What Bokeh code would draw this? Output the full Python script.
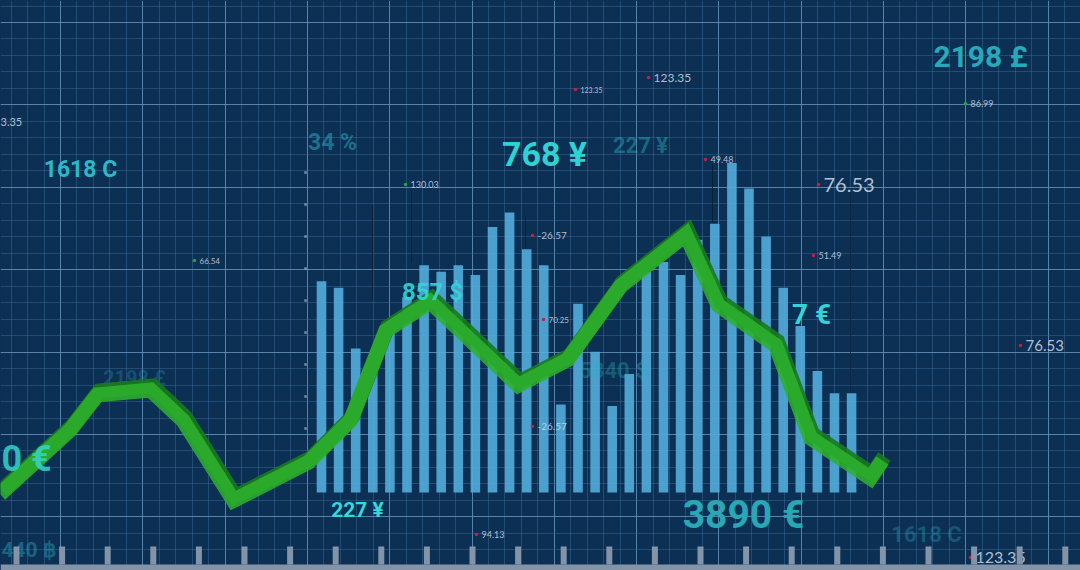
import numpy as np
from bokeh.plotting import figure
from bokeh.models import Range1d, Grid, FixedTicker, ColumnDataSource, GlobalInlineStyleSheet
from bokeh.core.properties import value
from bokeh.embed import file_html
from bokeh.resources import INLINE

# ---------------- data ----------------
bar_index = list(range(32))
bar_values = [6.6, 6.4, 4.5, 3.8, 5.3, 6.1, 7.1, 6.9, 7.1, 6.8, 8.3, 8.75, 7.6, 7.1,
              2.75, 5.9, 4.4, 2.7, 3.7, 6.9, 7.2, 6.8, 7.9, 8.4, 10.3, 9.5, 8.0,
              6.4, 5.2, 3.8, 3.1, 3.1]
line_t = [-18.8, -14.7, -13.1, -10.0, -8.1, -5.15, -0.75, 1.7, 3.75, 6.35, 11.5,
          14.4, 17.5, 21.3, 23.2, 26.55, 28.6, 32.1, 32.8]
line_v = [-0.05, 1.95, 3.05, 3.2, 2.25, -0.25, 0.95, 2.25, 5.05, 5.95, 3.35,
          4.15, 6.45, 8.05, 5.85, 4.6, 1.7, 0.45, 1.0]
axis_marks = [1, 2, 3, 4, 5, 6, 7, 8, 9, 10]

big_texts = ["768 ¥", "227 ¥", "34 %", "2198 £", "1618 C", "857 $", "7 €",
             "3890 €", "227 ¥", "1618 C", "2198 £", "5840 $", "0 €", "440 ฿"]
small_texts = ["123.35", "123.35", "3.35", "130.03", "66.54", "-26.57", "49.48",
               "76.53", "51.49", "86.99", "76.53", "70.25", "-26.57", "94.13", "123.35"]
small_dot = ["red", "red", "none", "green", "green", "red", "red", "red", "red",
             "green", "red", "red", "red", "red", "red"]

# ---------------- layout (reference pixel frame) ----------------
W, H = 1080, 570
BAR_X0, BAR_STEP, BASE_Y, UNIT = 321.0, 17.1, 492.0, 32.0
BG = "#0c2f54"

big_x = [544, 640, 332, 980, 80, 432, 811, 743, 357, 926, 134, 613, 1, 1]
big_y = [153, 145, 142, 56, 169, 291, 314, 514, 509, 534, 377, 370, 458, 549]
big_size = ["34px", "22px", "23px", "30px", "23px", "24px", "28px", "39px", "21px",
            "22px", "20px", "22px", "36px", "21px"]
big_color = ["#2fd2d2", "#2ab3c0", "#2ab3c0", "#28a9b9", "#2ab9c8", "#31d6d6", "#35e0e0",
             "#28a7b5", "#33dada", "#2aa7b8", "#2aa7b8", "#2ab3c0", "#33d6cc", "#2aa7b8"]
big_alpha = [1, 0.45, 0.5, 1, 1, 0.92, 0.95, 1, 1, 0.35, 0.3, 0.35, 0.85, 0.45]
big_align = ["center"] * 12 + ["left", "left"]
big_front = [False, False, False, False, False, True, True, False, False, False, False,
             False, True, False]

small_x = [653, 580, 0, 410, 199, 537, 710, 823, 818, 970, 1025, 548, 537, 481, 975]
small_y = [77, 89, 121, 184, 260, 235, 159, 184, 255, 103, 345, 319, 426, 534, 557]
small_size = ["12px", "7px", "11px", "9px", "8px", "10px", "9px", "20px", "9px",
              "9px", "15px", "8px", "10px", "9px", "16px"]
dot_colors = {"red": "#c8203c", "green": "#2aa043"}

p = figure(width=W, height=H, output_backend="svg", toolbar_location=None,
           x_range=Range1d(0, W), y_range=Range1d(H, 0),
           x_axis_type=None, y_axis_type=None, min_border=0,
           background_fill_color=BG, border_fill_color=BG, outline_line_color=None)
p.stylesheets = [GlobalInlineStyleSheet(css="body{background-color:%s;}" % BG)]
p.grid.visible = False

# extra ranges: bar index / bar value scales
p.extra_x_ranges = {"idx": Range1d((0 - BAR_X0) / BAR_STEP, (W - BAR_X0) / BAR_STEP)}
p.extra_y_ranges = {"val": Range1d((BASE_Y - H) / UNIT, BASE_Y / UNIT)}

# blueprint grid
step = 82.3
xt = [60 + step * k for k in range(-1, 14)]
yt = [22 + 82.4 * k for k in range(-1, 8)]
xm = [60 + step / 5 * k for k in range(-5, 70)]
ym = [22 + 82.4 / 5 * k for k in range(-5, 40)]
for dim, ticks, minors in ((0, xt, xm), (1, yt, ym)):
    g = Grid(dimension=dim, ticker=FixedTicker(ticks=ticks, minor_ticks=minors),
             grid_line_color="#7aa6cc", grid_line_alpha=0.6, grid_line_width=1,
             minor_grid_line_color="#3a6a96", minor_grid_line_alpha=0.5)
    p.add_layout(g)

# faint drop lines
drop_x = [372, 411, 525, 712, 850]
drop_top = [205, 190, 215, 163, 188]
drop_bot = [300, 262, 300, 222, 490]
p.segment(x0=drop_x, y0=drop_top, x1=drop_x, y1=drop_bot, line_color="#061a2e",
          line_alpha=0.7, line_width=1)

# axis marks of the bar chart
p.scatter(x=[(305 - BAR_X0) / BAR_STEP] * len(axis_marks), y=axis_marks, marker="square",
          size=2.5, fill_color="#8fa6bf", line_color=None, fill_alpha=0.8,
          x_range_name="idx", y_range_name="val")

# bars
src = ColumnDataSource(dict(i=bar_index, v=bar_values))
p.vbar(x="i", top="v", bottom=0, width=0.56, source=src, fill_color="#52addb",
       fill_alpha=0.9, line_color=None, x_range_name="idx", y_range_name="val")


def big_source(front):
    keep = [k for k in range(len(big_texts)) if big_front[k] == front]
    return ColumnDataSource(dict(
        x=[big_x[k] for k in keep], y=[big_y[k] for k in keep],
        t=[big_texts[k] for k in keep], s=[big_size[k] for k in keep],
        c=[big_color[k] for k in keep], a=[big_alpha[k] for k in keep],
        al=[big_align[k] for k in keep]))


def draw_big(src):
    p.text(x="x", y="y", text="t", text_font_size="s", text_color="c", text_alpha="a",
           text_align="al", text_baseline="middle", text_font_style="bold",
           text_font=value("Roboto"), source=src)


# labels behind the line
draw_big(big_source(False))

# green line: darker shadow then main stroke
shadow_t = [t + 2 / BAR_STEP for t in line_t]
shadow_v = [v + 4 / UNIT for v in line_v]
p.line(x=shadow_t, y=shadow_v, line_color="#1a7a1e", line_width=15, line_alpha=0.9,
       line_join="miter", x_range_name="idx", y_range_name="val")
p.line(x=line_t, y=line_v, line_color="#2cb02c", line_width=15, line_alpha=0.88,
       line_join="miter", x_range_name="idx", y_range_name="val")

# labels in front of the line
draw_big(big_source(True))

# small value labels with dots
ssrc = ColumnDataSource(dict(x=small_x, y=small_y, t=small_texts, s=small_size))
p.text(x="x", y="y", text="t", text_font_size="s", text_color="#d2dbe6", text_alpha=0.85,
       text_align="left", text_baseline="middle", text_font=value("Lato"), source=ssrc)
dx = [x - 5 for x, c in zip(small_x, small_dot) if c != "none"]
dy = [y for y, c in zip(small_y, small_dot) if c != "none"]
dc = [dot_colors[c] for c in small_dot if c != "none"]
p.scatter(x=dx, y=dy, size=3.5, fill_color=dc, line_color=None)

# bottom ruler
ruler_x = [16 + 45.6 * k for k in range(24)]
p.quad(left=0, right=W, top=564, bottom=571, fill_color="#8394a9", line_color=None)
p.quad(left=[x - 3 for x in ruler_x], right=[x + 3 for x in ruler_x], top=546, bottom=564,
       fill_color="#8394a9", line_color=None)

open("out.html", "w").write(file_html(p, INLINE))
